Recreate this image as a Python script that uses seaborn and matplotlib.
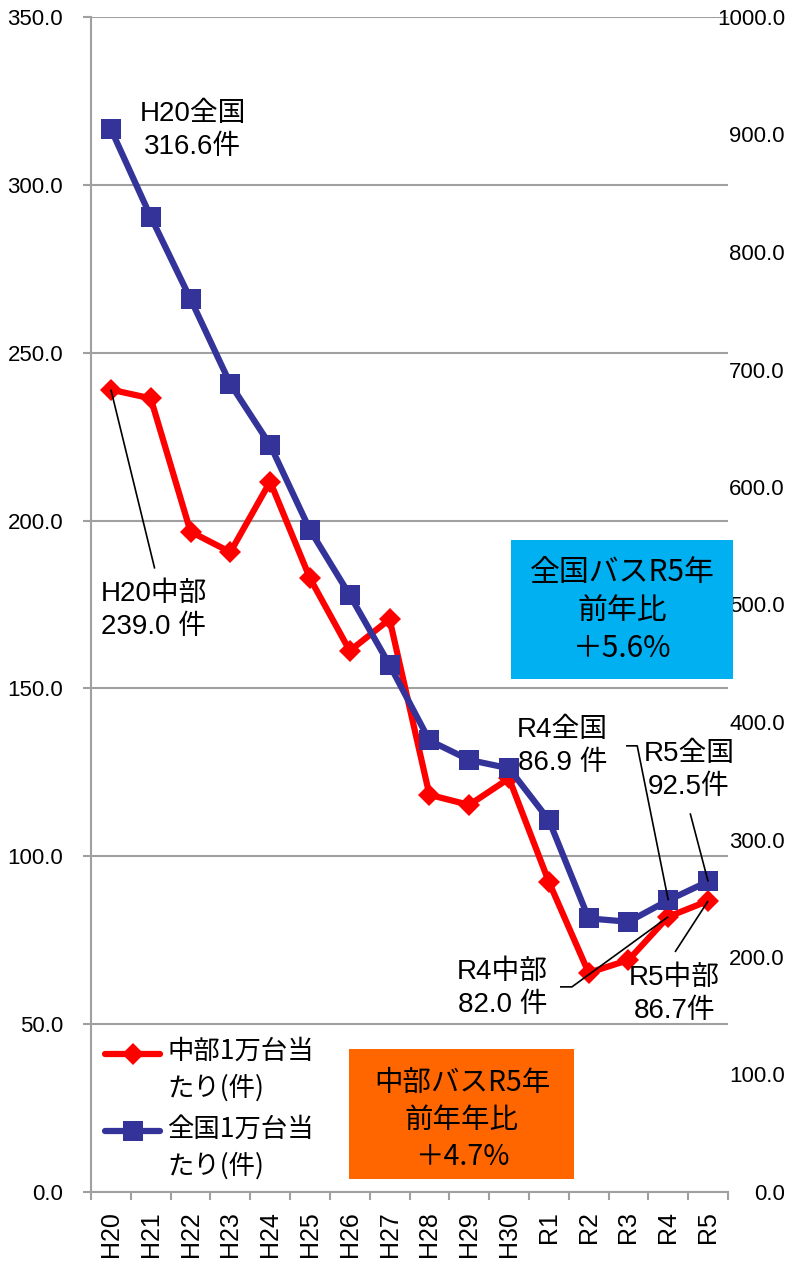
import numpy as np
import pandas as pd
import seaborn as sns
import matplotlib.pyplot as plt
from matplotlib.patches import Rectangle
from matplotlib.ticker import MultipleLocator, FormatStrFormatter

# data (accidents per 10,000 vehicles)
years = ['H20', 'H21', 'H22', 'H23', 'H24', 'H25', 'H26', 'H27',
         'H28', 'H29', 'H30', 'R1', 'R2', 'R3', 'R4', 'R5']
chubu = [239.0, 236.4, 196.7, 190.6, 211.6, 182.8, 161.2, 170.6,
         118.3, 115.3, 123.2, 92.4, 65.3, 69.1, 82.0, 86.7]
zenkoku = [316.6, 290.5, 266.0, 240.7, 222.5, 197.2, 177.8, 157.0,
           134.5, 128.7, 126.2, 110.8, 81.5, 80.5, 86.9, 92.5]
chubu_label = '中部1万台当\nたり(件)'
zenkoku_label = '全国1万台当\nたり(件)'
zenkoku_box = '全国バスR5年\n前年比\n＋5.6%'
chubu_box = '中部バスR5年\n前年年比\n＋4.7%'

sns.set_theme(style='white')
plt.rcParams['font.family'] = ['Liberation Sans', 'Noto Sans CJK JP']
plt.rcParams['text.color'] = 'black'
CJK = ['Noto Sans CJK JP', 'DejaVu Sans']
GRAY = '#A0A0A0'

df = pd.DataFrame({'pos': np.arange(len(years)), 'chubu': chubu, 'zenkoku': zenkoku})

fig = plt.figure(figsize=(7.89, 12.63), dpi=100)
ax = fig.add_axes([91 / 789, 71 / 1263, 637 / 789, 1175 / 1263])

sns.lineplot(data=df, x='pos', y='chubu', ax=ax, color='#FF0000', lw=4.5,
             marker='D', markersize=11.5, markeredgewidth=0, label=chubu_label, zorder=3)
sns.lineplot(data=df, x='pos', y='zenkoku', ax=ax, color='#333399', lw=4.5,
             marker='s', markersize=15, markeredgewidth=0, label=zenkoku_label, zorder=4)

ax.set_xlim(-0.5, len(years) - 0.5)
ax.set_ylim(0, 350)
ax.yaxis.set_major_locator(MultipleLocator(50))
ax.yaxis.set_major_formatter(FormatStrFormatter('%.1f'))
ax.grid(axis='y', color=GRAY, lw=1.5)
ax.grid(axis='x', visible=False)
ax.set_axisbelow(True)
for s in ['top', 'right']:
    ax.spines[s].set_visible(False)
for s in ['left', 'bottom']:
    ax.spines[s].set_color(GRAY)
    ax.spines[s].set_linewidth(1.5)
ax.set_xlabel('')
ax.set_ylabel('')
ax.tick_params(axis='y', left=True, length=6, width=1.5, color=GRAY, pad=14,
               labelsize=16, labelcolor='black')
ax.set_xticks(np.arange(len(years)))
ax.set_xticklabels(years, rotation=90, fontsize=18)
ax.set_xticks(np.arange(-0.5, len(years), 1), minor=True)
ax.tick_params(axis='x', which='major', length=0, pad=14, labelcolor='black')
ax.tick_params(axis='x', which='minor', bottom=True, length=6, width=1.5, color=GRAY)

# secondary axis on the right
ax2 = ax.twinx()
ax2.set_ylim(0, 1000)
ax2.yaxis.set_major_locator(MultipleLocator(100))
ax2.yaxis.set_major_formatter(FormatStrFormatter('%.1f'))
ax2.grid(False)
for s in ax2.spines.values():
    s.set_visible(False)
ax2.tick_params(axis='y', right=True, length=0, pad=41, labelsize=16, labelcolor='black')
for lbl in ax2.get_yticklabels():
    lbl.set_ha('right')

# legend
leg = ax.legend(loc='upper left', bbox_to_anchor=(0.022, 0.131), frameon=False,
                prop={'family': CJK, 'size': 19}, handlelength=2.1,
                handletextpad=0.25, labelspacing=0.5, borderpad=0, borderaxespad=0)
for t in leg.get_texts():
    t.set_linespacing(1.45)
for ln in leg.get_lines():
    ln.set_ydata(np.asarray(ln.get_ydata()) + 12.5)

# data labels
lab_kw = dict(fontsize=20, ha='center', va='center', multialignment='center',
              linespacing=1.35, zorder=6)
ax.text(2.05, 316.3, 'H20全国\n316.6件', **lab_kw)
ax.text(1.08, 173.2, 'H20中部\n239.0 件', **lab_kw)
ax.text(11.34, 132.7, 'R4全国\n86.9 件', **lab_kw)
ax.text(14.52, 125.7, 'R5全国\n92.5件', **lab_kw)
ax.text(9.84, 60.7, 'R4中部\n82.0 件', **lab_kw)
ax.text(14.15, 58.7, 'R5中部\n86.7件', **lab_kw)


def leader(i, val, xs, ys):
    ax.plot([i] + xs, [val] + ys, color='black', lw=1.2, zorder=7,
            solid_capstyle='butt', clip_on=False)


leader(0, chubu[0], [1.1], [185.7])
leader(14, zenkoku[14], [13.22, 12.94], [132.9, 132.9])
leader(15, zenkoku[15], [14.55], [112.8])
leader(14, chubu[14], [11.58, 11.28], [61.1, 61.1])
leader(15, chubu[15], [14.17], [71.5])

# coloured summary boxes
fig.add_artist(Rectangle((511 / 789, 1 - 679 / 1263), 222 / 789, 139 / 1263,
                         transform=fig.transFigure, facecolor='#00B0F0',
                         edgecolor='none', zorder=8))
fig.text(622 / 789, 1 - 610.5 / 1263, zenkoku_box, family=CJK, fontsize=21.5,
         ha='center', va='center', multialignment='center', linespacing=1.3, zorder=9)
fig.add_artist(Rectangle((349 / 789, 1 - 1179 / 1263), 225 / 789, 130 / 1263,
                         transform=fig.transFigure, facecolor='#FF6600',
                         edgecolor='none', zorder=8))
fig.text(462 / 789, 1 - 1120 / 1263, chubu_box, family=CJK, fontsize=20.5,
         ha='center', va='center', multialignment='center', linespacing=1.3, zorder=9)

fig.savefig('out.png', dpi=100)
